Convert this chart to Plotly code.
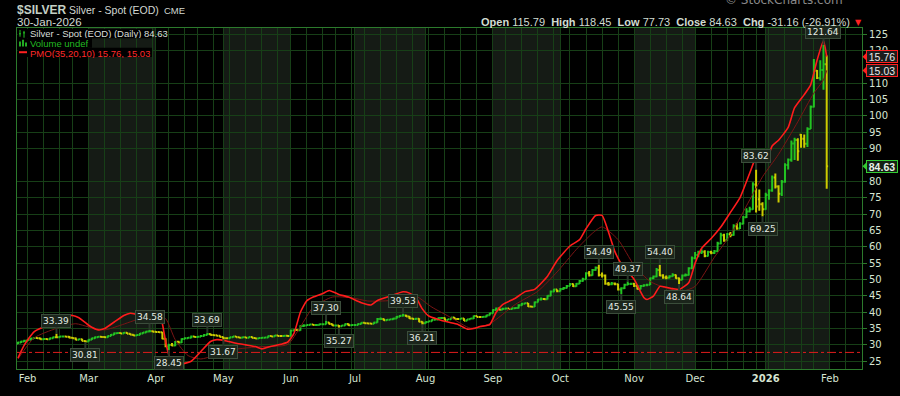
import plotly.graph_objects as go
import pandas as pd

# ---------------- DATA ----------------
# Daily OHLC, Jan 29 2025 .. Jan 30 2026 (trading days)
opens = [
    30.40, 30.70, 31.00,
    31.30, 31.55, 31.95, 32.10, 32.00, 31.75, 31.80, 31.70, 32.05, 32.35, 32.30, 32.55, 32.60, 32.50, 32.20, 32.05, 31.60, 31.75, 31.20,
    31.05, 31.60, 32.00, 32.35, 32.50, 32.40, 32.30, 32.75, 33.10, 33.55, 33.60, 33.50, 33.70, 33.40, 33.10, 32.85, 33.05, 33.50, 33.80, 34.10, 34.20,
    34.00, 33.95, 33.85, 31.90, 29.55, 30.00, 29.80, 30.95, 30.75, 31.80, 32.05, 32.15, 32.55, 32.40, 32.50, 32.70, 33.05, 33.30, 33.00, 32.95, 32.80,
    32.40, 32.05, 32.00, 32.30, 32.60, 32.35, 32.20, 32.35, 32.15, 32.40, 32.10, 31.95, 32.10, 32.20, 32.25, 32.70, 32.60, 32.85, 32.75, 32.70, 32.80,
    32.75, 34.40, 34.55, 34.45, 35.75, 35.95, 36.05, 36.25, 36.05, 36.10, 36.30, 36.30, 36.85, 36.40, 35.90, 35.95, 35.70, 35.95, 36.40, 36.00,
    36.05, 36.10, 36.40, 36.75, 36.60, 36.55, 36.50, 36.85, 37.90, 37.95, 37.55, 37.70, 37.80, 38.05, 38.60, 38.90, 39.00, 38.70, 38.10, 37.90, 38.00, 37.05,
    36.65, 37.00, 37.25, 37.70, 37.75, 38.20, 38.25, 37.60, 37.85, 38.40, 37.95, 37.95, 38.05, 37.40, 37.85, 38.05, 38.80, 38.55, 38.55, 38.60, 39.05,
    39.65, 40.70, 41.10, 40.75, 41.05, 41.15, 40.95, 41.20, 41.25, 42.15, 42.55, 42.70, 41.70, 41.65, 43.05, 43.85, 44.00, 43.95, 45.00, 46.35, 46.90,
    46.40, 47.05, 47.40, 48.00, 48.60, 47.90, 48.70, 49.50, 50.10, 51.90, 51.30, 52.90, 53.60, 51.40, 51.20, 48.70, 48.50, 48.75, 48.55, 46.90, 47.30, 48.40, 48.60,
    48.70, 48.05, 47.10, 48.00, 48.20, 48.40, 50.40, 50.90, 52.90, 51.20, 50.60, 50.50, 51.00, 51.40, 50.40, 49.90, 51.20, 51.40, 53.40,
    56.50, 57.50, 58.30, 58.50, 57.20, 58.40, 58.10, 58.60, 61.00, 63.50, 62.00, 63.80, 63.60, 66.30, 65.60, 67.00, 69.00, 70.80, 71.50, 79.00, 74.50, 73.00,
    71.50, 75.80, 77.20, 81.20, 78.40, 76.20, 79.90, 85.00, 86.60, 91.60, 92.60, 94.20, 93.00, 91.50, 96.00, 102.80, 113.80, 111.60, 114.00, 115.79,
]
highs = [
    30.95, 31.25, 31.55,
    31.75, 32.15, 32.35, 32.30, 32.15, 32.00, 32.00, 32.25, 32.55, 33.39, 32.75, 32.85, 32.80, 32.70, 32.40, 32.25, 31.95, 31.85, 31.40,
    31.75, 32.15, 32.55, 32.70, 32.65, 32.55, 32.90, 33.30, 33.75, 33.85, 33.80, 33.95, 33.85, 33.55, 33.25, 33.20, 33.65, 33.95, 34.30, 34.58, 34.40,
    34.20, 34.15, 33.95, 32.00, 30.35, 30.60, 31.20, 31.30, 32.00, 32.30, 32.40, 32.85, 32.70, 32.75, 33.00, 33.30, 33.69, 33.45, 33.20, 33.10, 32.90,
    32.50, 32.30, 32.45, 32.75, 32.70, 32.50, 32.55, 32.45, 32.55, 32.55, 32.20, 32.25, 32.35, 32.40, 32.85, 32.85, 33.00, 33.00, 32.90, 32.95, 32.95,
    34.60, 34.80, 34.75, 36.00, 36.30, 36.25, 36.50, 36.40, 36.35, 36.55, 36.60, 37.30, 36.95, 36.50, 36.20, 36.05, 36.15, 36.60, 36.55, 36.25,
    36.30, 36.60, 36.95, 36.85, 36.80, 36.75, 37.05, 38.20, 38.40, 38.05, 37.90, 38.00, 38.30, 38.80, 39.15, 39.53, 39.20, 38.80, 38.30, 38.30, 38.15, 37.20,
    37.15, 37.40, 37.85, 37.95, 38.35, 38.45, 38.35, 38.00, 38.55, 38.50, 38.15, 38.20, 38.15, 37.95, 38.20, 39.00, 38.90, 38.75, 38.75, 39.20, 39.80,
    40.90, 41.40, 41.20, 41.35, 41.40, 41.30, 41.40, 41.50, 42.40, 42.80, 42.95, 42.80, 42.00, 43.25, 44.05, 44.45, 44.30, 45.20, 46.60, 47.15, 46.95,
    47.40, 47.70, 48.30, 48.95, 48.75, 48.95, 49.80, 50.50, 52.20, 52.60, 53.20, 54.00, 54.49, 52.10, 51.50, 49.20, 49.20, 49.10, 48.70, 47.60, 48.70, 49.37, 49.00,
    48.95, 48.30, 48.30, 48.55, 48.70, 50.60, 51.20, 53.50, 54.40, 51.60, 51.20, 51.30, 51.90, 51.50, 50.60, 51.50, 51.80, 53.70, 57.00,
    58.40, 58.80, 59.20, 58.90, 58.80, 58.80, 59.00, 61.50, 64.30, 64.00, 64.20, 64.50, 66.90, 67.20, 67.50, 69.40, 71.80, 72.20, 79.70, 83.62, 77.50, 73.60,
    76.50, 77.60, 81.80, 82.40, 78.80, 80.40, 85.50, 87.00, 92.50, 93.30, 93.20, 94.50, 94.30, 96.50, 103.20, 117.40, 114.00, 117.00, 121.64, 118.45,
]
lows = [
    30.30, 30.60, 30.90,
    31.15, 31.40, 31.80, 31.85, 31.60, 31.60, 31.55, 31.60, 31.95, 32.05, 32.15, 32.35, 32.30, 32.05, 31.85, 31.45, 31.50, 31.10, 30.81,
    30.95, 31.50, 31.90, 32.20, 32.25, 32.10, 32.20, 32.65, 33.00, 33.35, 33.35, 33.40, 33.30, 33.00, 32.75, 32.75, 32.95, 33.40, 33.70, 33.95, 33.85,
    33.70, 33.60, 31.70, 29.25, 28.45, 29.60, 29.60, 30.50, 30.60, 31.70, 31.90, 32.05, 32.25, 32.25, 32.40, 32.60, 32.95, 32.85, 32.75, 32.60, 32.25,
    31.67, 31.85, 31.90, 32.20, 32.25, 32.10, 32.10, 32.05, 32.05, 32.00, 31.85, 31.85, 32.00, 32.10, 32.15, 32.45, 32.50, 32.60, 32.55, 32.60, 32.60,
    32.70, 34.20, 34.25, 34.35, 35.50, 35.80, 35.90, 35.90, 35.85, 36.00, 36.10, 36.25, 36.20, 35.75, 35.70, 35.27, 35.60, 35.85, 35.80, 35.80,
    35.85, 36.00, 36.30, 36.45, 36.35, 36.30, 36.40, 36.80, 37.70, 37.40, 37.45, 37.55, 37.70, 38.00, 38.50, 38.80, 38.55, 37.95, 37.75, 37.80, 36.95, 36.21,
    36.50, 36.90, 37.15, 37.55, 37.65, 38.05, 37.50, 37.50, 37.75, 37.85, 37.80, 37.85, 37.30, 37.35, 37.75, 37.95, 38.45, 38.35, 38.40, 38.45, 38.95,
    39.60, 40.55, 40.60, 40.65, 40.90, 40.80, 40.85, 41.05, 41.15, 42.00, 42.40, 41.55, 41.45, 41.55, 42.95, 43.60, 43.70, 43.85, 44.90, 46.10, 46.10,
    46.30, 46.85, 47.25, 47.90, 47.70, 47.80, 48.60, 49.30, 50.00, 50.90, 51.10, 52.70, 50.90, 50.60, 48.40, 48.10, 48.20, 48.25, 46.60, 45.55, 47.10, 48.20, 48.30,
    47.70, 46.90, 46.95, 47.80, 47.90, 48.30, 50.10, 50.70, 51.00, 50.20, 50.10, 50.30, 50.80, 50.20, 48.64, 49.80, 50.90, 51.20, 53.20,
    56.20, 56.80, 57.80, 56.80, 57.00, 57.70, 57.80, 58.40, 60.80, 61.50, 61.80, 62.90, 63.40, 65.20, 65.40, 66.90, 68.80, 70.50, 71.30, 70.50, 71.00, 69.25,
    71.30, 74.40, 76.80, 77.80, 73.50, 75.50, 79.60, 83.60, 86.00, 86.50, 86.30, 90.30, 90.30, 90.50, 96.00, 102.60, 111.30, 110.80, 108.00, 77.73,
]
closes = [
    30.70, 31.00, 31.30,
    31.55, 31.95, 32.10, 32.00, 31.75, 31.80, 31.70, 32.05, 32.35, 32.30, 32.55, 32.60, 32.50, 32.20, 32.05, 31.60, 31.75, 31.20, 31.05,
    31.60, 32.00, 32.35, 32.50, 32.40, 32.30, 32.75, 33.10, 33.55, 33.60, 33.50, 33.70, 33.40, 33.10, 32.85, 33.05, 33.50, 33.80, 34.10, 34.20, 34.00,
    33.95, 33.85, 31.90, 29.55, 30.00, 29.80, 30.95, 30.75, 31.80, 32.05, 32.15, 32.55, 32.40, 32.50, 32.70, 33.05, 33.30, 33.00, 32.95, 32.80, 32.40,
    32.05, 32.00, 32.30, 32.60, 32.35, 32.20, 32.35, 32.15, 32.40, 32.10, 31.95, 32.10, 32.20, 32.25, 32.70, 32.60, 32.85, 32.75, 32.70, 32.80, 32.75,
    34.40, 34.55, 34.45, 35.75, 35.95, 36.05, 36.25, 36.05, 36.10, 36.30, 36.30, 36.85, 36.40, 35.90, 35.95, 35.70, 35.95, 36.40, 36.00, 36.05,
    36.10, 36.40, 36.75, 36.60, 36.55, 36.50, 36.85, 37.90, 37.95, 37.55, 37.70, 37.80, 38.05, 38.60, 38.90, 39.00, 38.70, 38.10, 37.90, 38.00, 37.05, 36.65,
    37.00, 37.25, 37.70, 37.75, 38.20, 38.25, 37.60, 37.85, 38.40, 37.95, 37.95, 38.05, 37.40, 37.85, 38.05, 38.80, 38.55, 38.55, 38.60, 39.05, 39.65,
    40.70, 41.10, 40.75, 41.05, 41.15, 40.95, 41.20, 41.25, 42.15, 42.55, 42.70, 41.70, 41.65, 43.05, 43.85, 44.00, 43.95, 45.00, 46.35, 46.90, 46.40,
    47.05, 47.40, 48.00, 48.60, 47.90, 48.70, 49.50, 50.10, 51.90, 51.30, 52.90, 53.60, 51.40, 51.20, 48.70, 48.50, 48.75, 48.55, 46.90, 47.30, 48.40, 48.60, 48.70,
    48.05, 47.10, 48.00, 48.20, 48.40, 50.40, 50.90, 52.90, 51.20, 50.60, 50.50, 51.00, 51.40, 50.40, 49.90, 51.20, 51.40, 53.40, 56.50,
    57.50, 58.30, 58.50, 57.20, 58.40, 58.10, 58.60, 61.00, 63.50, 62.00, 63.80, 63.60, 66.30, 65.60, 67.00, 69.00, 70.80, 71.50, 79.00, 72.30, 73.00, 71.50,
    75.80, 77.20, 81.20, 78.40, 76.20, 79.90, 85.00, 86.60, 91.60, 92.60, 89.20, 93.00, 91.50, 96.00, 102.80, 113.80, 111.60, 114.00, 115.79, 84.63,
]

# PMO(35,20,10) line and its signal line (bar index, value)
pmo_x = [0, 2, 5, 8, 12, 15, 17, 19, 22, 25, 27, 30, 33, 35, 38, 41, 44, 45, 46, 47,
         48, 51, 54, 57, 60, 62, 65, 68, 71, 74, 76, 79, 82, 84, 86, 88, 90, 92, 95, 97,
         100, 103, 107, 110, 112, 116, 120, 122, 124, 126, 128, 131, 134, 137, 140, 142, 144, 147, 149, 151,
         155, 158, 161, 165, 168, 172, 175, 177, 180, 182, 184, 186, 188, 192, 195, 196, 198, 200, 202, 204,
         206, 209, 211, 213, 216, 219, 222, 225, 228, 230, 231, 233, 235, 237, 240, 242, 245, 247, 249, 251, 252]
pmo_v = [-0.30, 0.40, 1.10, 1.36, 1.66, 1.92, 1.97, 1.85, 1.45, 1.20, 1.27, 1.62, 1.97, 2.09, 2.00, 2.04, 2.00, 1.53, 0.58, -0.12,
         -0.47, -0.61, -0.47, 0.05, 0.58, 0.68, 0.61, 0.49, 0.40, 0.31, 0.19, 0.33, 0.44, 0.54, 1.01, 2.14, 2.75, 2.95, 3.14, 3.30,
         3.09, 2.95, 2.65, 2.53, 2.77, 3.00, 3.23, 3.16, 2.93, 2.32, 1.94, 1.76, 1.62, 1.50, 1.24, 1.27, 1.38, 1.48, 2.14, 2.55,
         2.89, 3.24, 3.36, 4.06, 4.90, 5.67, 6.01, 6.59, 7.30, 7.30, 6.42, 5.37, 4.72, 3.89, 2.93, 2.82, 3.00, 3.52, 3.47, 3.40,
         3.35, 3.71, 4.76, 5.54, 6.07, 6.68, 7.46, 8.25, 9.55, 10.43, 10.56, 10.16, 11.00, 11.31, 11.99, 13.04, 13.74, 14.26, 15.57, 16.61, 15.76]
sig_x = [0, 5, 12, 18, 22, 27, 32, 38, 43, 46, 49, 53, 57, 61, 65, 75, 84, 88, 92, 98,
         104, 109, 116, 123, 129, 135, 141, 147, 155, 162, 168, 174, 179, 182, 187, 192, 197, 202, 207, 211,
         217, 222, 227, 232, 237, 243, 248, 251, 252]
sig_v = [-0.35, 0.77, 1.28, 1.53, 1.36, 1.20, 1.45, 1.80, 1.97, 1.80, 0.68, -0.17, -0.35, -0.17, 0.10, 0.30, 0.42, 1.36, 2.41, 2.95,
         2.91, 2.74, 2.77, 3.09, 2.41, 1.85, 1.29, 1.53, 2.56, 3.26, 4.29, 5.49, 6.35, 6.69, 6.01, 4.64, 3.78, 3.43, 3.26, 3.52,
         5.07, 6.26, 7.81, 9.36, 10.56, 12.29, 13.82, 14.52, 15.03]

# Labelled swing highs / lows (bar index, value, +1 above / -1 below)
hl_idx = [12, 21, 41, 47, 59, 64, 96, 100, 120, 126, 181, 188, 190, 200, 206, 230, 232, 251]
hl_val = [33.39, 30.81, 34.58, 28.45, 33.69, 31.67, 37.30, 35.27, 39.53, 36.21, 54.49, 45.55, 49.37, 54.40, 48.64, 83.62, 69.25, 121.64]
hl_pos = [1, -1, 1, -1, 1, -1, 1, -1, 1, -1, 1, -1, 1, 1, -1, 1, -1, 1]

# right price-axis labels (85 and 115 sit under the value boxes)
price_ticks = [25, 30, 35, 40, 45, 50, 55, 60, 65, 70, 75, 80, 90, 95, 100, 105, 110, 120, 125]

month_names = ["Jan", "Feb", "Mar", "Apr", "May", "Jun", "Jul", "Aug", "Sep", "Oct", "Nov", "Dec"]
holidays = ["2025-02-17", "2025-04-18", "2025-05-26", "2025-06-19", "2025-07-04", "2025-09-01",
            "2025-11-27", "2025-12-25", "2026-01-01", "2026-01-19"]

# ---------------- AXIS CALENDAR ----------------
alld = pd.bdate_range("2025-01-29", "2026-02-13")
alld = alld[~alld.isin(pd.to_datetime(holidays))]
n = len(closes)
xs = list(range(n))

month_idx, month_txt, week_idx = [], [], []
for i in range(1, len(alld)):
    d, p = alld[i], alld[i - 1]
    if d.month != p.month:
        month_idx.append(i)
        month_txt.append("<b>%d</b>" % d.year if d.month == 1 else month_names[d.month - 1])
    if d.isocalendar()[1] != p.isocalendar()[1]:
        week_idx.append(i)

# ---------------- STYLE ----------------
GRID = "#173f17"
BORDER = "#2c7a2c"
TXT = "#d6e4d2"
FONT = "DejaVu Sans"
SANS = "Liberation Sans"
L, R, T, B = 17, 38, 28, 16
W, H = 900, 396
PW, PH = W - L - R, H - T - B
Y0, Y1 = 22.63, 126.87
PMO_ZERO, PMO_SCALE = 27.7, 5.736


def PX(x):
    return (x - L) / PW


def PY(y):
    return 1 - (y - T) / PH


fig = go.Figure()

fig.add_trace(go.Ohlc(
    x=xs, open=opens, high=highs, low=lows, close=closes,
    increasing=dict(line=dict(color="#22c422", width=2)),
    decreasing=dict(line=dict(color="#cccc00", width=2)),
    tickwidth=0.45, showlegend=False, hoverinfo="skip"))

fig.add_trace(go.Scatter(x=sig_x, y=sig_v, yaxis="y2", mode="lines",
                         line=dict(color="#7a1414", width=1, shape="spline", smoothing=0.6),
                         showlegend=False, hoverinfo="skip"))
fig.add_trace(go.Scatter(x=pmo_x, y=pmo_v, yaxis="y2", mode="lines",
                         line=dict(color="#ff1c1c", width=1.6, shape="spline", smoothing=0.5),
                         showlegend=False, hoverinfo="skip"))

shapes = []
# alternate month shading
for k in range(len(month_idx) - 1):
    if month_txt[k] in ("Mar", "May", "Jul", "Sep", "Nov") or "20" in month_txt[k]:
        shapes.append(dict(type="rect", xref="x", yref="paper", x0=month_idx[k], x1=month_idx[k + 1],
                           y0=0, y1=1, fillcolor="#151b15", line=dict(width=0), layer="below"))
# PMO zero line
shapes.append(dict(type="line", xref="paper", yref="y2", x0=0, x1=1, y0=0, y1=0,
                   line=dict(color="#e01c1c", width=1, dash="dashdot")))
# legend backing boxes and icons
shapes += [
    dict(type="rect", xref="paper", yref="paper", x0=PX(17.5), x1=PX(152), y0=PY(29), y1=PY(38.5), fillcolor="#000000", line=dict(width=0)),
    dict(type="rect", xref="paper", yref="paper", x0=PX(17.5), x1=PX(92), y0=PY(38.5), y1=PY(48.5), fillcolor="#000000", line=dict(width=0)),
    dict(type="rect", xref="paper", yref="paper", x0=PX(17.5), x1=PX(152), y0=PY(48.5), y1=PY(58), fillcolor="#000000", line=dict(width=0)),
    dict(type="line", xref="paper", yref="paper", x0=PX(20), x1=PX(20), y0=PY(30), y1=PY(37), line=dict(color="#22c422", width=1)),
    dict(type="line", xref="paper", yref="paper", x0=PX(24), x1=PX(24), y0=PY(31), y1=PY(38), line=dict(color="#22c422", width=1)),
    dict(type="line", xref="paper", yref="paper", x0=PX(19), x1=PX(21), y0=PY(34), y1=PY(34), line=dict(color="#22c422", width=1)),
    dict(type="line", xref="paper", yref="paper", x0=PX(23), x1=PX(25), y0=PY(33), y1=PY(33), line=dict(color="#22c422", width=1)),
    dict(type="rect", xref="paper", yref="paper", x0=PX(19), x1=PX(21), y0=PY(47), y1=PY(42), fillcolor="#22aa22", line=dict(width=0)),
    dict(type="rect", xref="paper", yref="paper", x0=PX(22), x1=PX(24), y0=PY(47), y1=PY(40), fillcolor="#22aa22", line=dict(width=0)),
    dict(type="rect", xref="paper", yref="paper", x0=PX(25), x1=PX(27), y0=PY(47), y1=PY(43), fillcolor="#22aa22", line=dict(width=0)),
    dict(type="line", xref="paper", yref="paper", x0=PX(19), x1=PX(27), y0=PY(53), y1=PY(53), line=dict(color="#ff2020", width=2)),
]


def notch(yval, yref, yunit, color):
    # small left-pointing triangle of a right-hand value box
    tip = 1 + 0.5 / PW
    base = 1 + 4.5 / PW
    h = 4 / yunit
    return dict(type="path", xref="paper", yref=yref,
                path="M %f,%f L %f,%f L %f,%f Z" % (tip, yval, base, yval + h, base, yval - h),
                fillcolor=color, line=dict(width=0))


YU = PH / (Y1 - Y0)          # px per price unit
YU2 = YU * PMO_SCALE          # px per PMO unit
shapes += [notch(closes[-1], "y", YU, "#33cc33"),
           notch(pmo_v[-1], "y2", YU2, "#ff2020"),
           notch(sig_v[-1], "y2", YU2, "#ff2020")]

ann = []
# high / low labels
for i, v, s in zip(hl_idx, hl_val, hl_pos):
    ann.append(dict(x=i, y=v, xref="x", yref="y", text="%.2f" % v, showarrow=True, arrowhead=0,
                    arrowwidth=2, arrowcolor="#2a382a", ax=0, ay=-13 if s > 0 else 13,
                    bgcolor="#1b251b", bordercolor="#3b4d3b", borderwidth=1, borderpad=1,
                    font=dict(family=FONT, size=9, color="#e4ece4")))

# header
hdr = dict(xref="paper", yref="paper", showarrow=False, xanchor="left", yanchor="middle")
ann += [
    dict(hdr, x=PX(15), y=PY(9), text="<b>$SILVER</b>", font=dict(family=SANS, size=12, color="#c4d0c4")),
    dict(hdr, x=PX(67), y=PY(9), text="Silver - Spot (EOD)", font=dict(family=SANS, size=10.5, color="#d2d8d2")),
    dict(hdr, x=PX(162), y=PY(9.5), text="CME", font=dict(family=SANS, size=9.5, color="#d2d8d2")),
    dict(hdr, x=PX(15), y=PY(21.5), text="30-Jan-2026", font=dict(family=SANS, size=11.5, color="#d2d8d2")),
]
chg = closes[-1] - closes[-2]
pct = chg / closes[-2] * 100
NB = "&nbsp;"
top = ("<b>Open</b> %.2f%s<b>High</b> %.2f%s<b>Low</b> %.2f%s<b>Close</b> %.2f%s<b>Chg</b> %.2f (%.2f%%)"
       % (opens[-1], NB * 2, highs[-1], NB * 2, lows[-1], NB * 2, closes[-1], NB * 2, chg, pct))
ann += [
    dict(hdr, x=PX(852), y=PY(21.5), xanchor="right", text=top, font=dict(family=SANS, size=11, color="#d2dcd2")),
    dict(hdr, x=PX(853), y=PY(22), text="▼", font=dict(family=FONT, size=8, color="#ff2020")),
    dict(hdr, x=PX(845), y=PY(-1), xanchor="right", text="© StockCharts.com", font=dict(family=FONT, size=12, color="#8a8a8a")),
]
# legend
ann += [
    dict(hdr, x=PX(29), y=PY(33.5), text="Silver - Spot (EOD) (Daily) %.2f" % closes[-1], height=10, borderpad=0,
         font=dict(family=SANS, size=9.5, color="#d8ded8")),
    dict(hdr, x=PX(29), y=PY(43.5), text="Volume undef", height=10, borderpad=0,
         font=dict(family=SANS, size=9.5, color="#22bb22")),
    dict(hdr, x=PX(29), y=PY(53.5), text="PMO(35,20,10) %.2f, %.2f" % (pmo_v[-1], sig_v[-1]), height=10, borderpad=0,
         font=dict(family=SANS, size=9.5, color="#ff2a2a")),
]
# right-hand value boxes
box = dict(x=1, xref="paper", xanchor="left", xshift=4, showarrow=False, borderwidth=1, borderpad=0,
           height=11, width=30)
ann += [
    dict(box, y=closes[-1], yref="y", text="<b>%.2f</b>" % closes[-1], bgcolor="#142014", bordercolor="#33cc33",
         font=dict(family=SANS, size=10.5, color="#e8f0e8")),
    dict(box, y=pmo_v[-1], yref="y2", text="%.2f" % pmo_v[-1], bgcolor="#1c1c1c", bordercolor="#ff2020",
         font=dict(family=SANS, size=10.5, color="#e8e8e8")),
    dict(box, y=sig_v[-1], yref="y2", text="%.2f" % sig_v[-1], bgcolor="#1c1c1c", bordercolor="#ff2020",
         font=dict(family=SANS, size=10.5, color="#e8e8e8")),
]

fig.update_layout(
    width=W, height=H, margin=dict(l=L, r=R, t=T, b=B),
    paper_bgcolor="#000000", plot_bgcolor="#000000",
    xaxis=dict(range=[-0.3, 263.0], tickmode="array", tickvals=month_idx, ticktext=month_txt,
               showgrid=True, gridcolor=GRID, gridwidth=1, zeroline=False,
               minor=dict(tickmode="array", tickvals=week_idx, showgrid=True, gridcolor=GRID, gridwidth=1),
               showline=True, linecolor=BORDER, linewidth=1, mirror=True, ticks="",
               rangeslider=dict(visible=False),
               tickfont=dict(family=FONT, size=10, color=TXT)),
    yaxis=dict(range=[Y0, Y1], side="right", tickmode="array", tickvals=price_ticks,
               showgrid=True, gridcolor=GRID, gridwidth=1, zeroline=False,
               showline=True, linecolor=BORDER, linewidth=1, mirror=True,
               ticks="outside", ticklen=4, tickcolor=BORDER,
               tickfont=dict(family=FONT, size=10, color=TXT)),
    yaxis2=dict(range=[(Y0 - PMO_ZERO) / PMO_SCALE, (Y1 - PMO_ZERO) / PMO_SCALE],
                overlaying="y", visible=False),
    shapes=shapes, annotations=ann, showlegend=False,
)

fig.write_html("out.html")
